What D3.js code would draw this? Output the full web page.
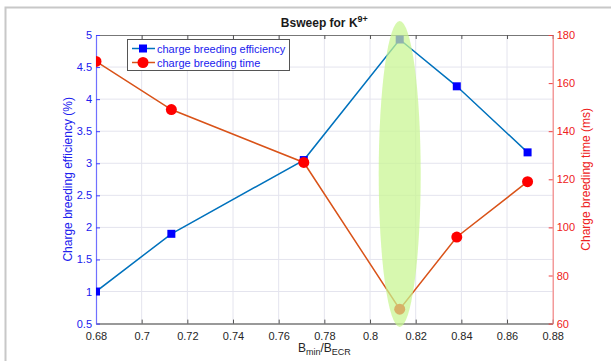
<!DOCTYPE html>
<html><head><meta charset="utf-8">
<script src="https://cdn.jsdelivr.net/npm/d3@7"></script>
<style>
body{margin:0;background:#fff;}
svg text{font-family:"Liberation Sans",Arial,sans-serif;}
</style></head>
<body><svg id="c" width="611" height="361"></svg>
<script>
const ratio = [0.68, 0.713, 0.771, 0.813, 0.838, 0.869];
const efficiency = [1.0, 1.9, 3.05, 4.93, 4.2, 3.17];
const breedTime = [169, 149, 127, 66, 96, 119];
const xTicks = [0.68,0.7,0.72,0.74,0.76,0.78,0.8,0.82,0.84,0.86,0.88];
const yLeftTicks = [0.5,1,1.5,2,2.5,3,3.5,4,4.5,5];
const yRightTicks = [60,80,100,120,140,160,180];
const highlightX = 0.813;
const seriesNames = ["charge breeding efficiency","charge breeding time"];

const svg = d3.select("#c");
const L=96, R=552.7, T=35, B=323.6;
const x = d3.scaleLinear().domain([0.68,0.88]).range([L,R]);
const yL = d3.scaleLinear().domain([0.5,5]).range([B,T]);
const yR = d3.scaleLinear().domain([60,180]).range([B,T]);

svg.append("defs").append("clipPath").attr("id","clip").append("rect")
  .attr("x",L).attr("y",T-6).attr("width",R-L).attr("height",B-T+6);

// figure border
svg.append("path").attr("d","M5.5,361 V7.5 H611").attr("fill","none").attr("stroke","#c8c8c8").attr("stroke-width",2);

// grid
svg.append("g").selectAll("line").data(xTicks.slice(1,-1)).join("line")
  .attr("x1",d=>x(d)).attr("x2",d=>x(d)).attr("y1",T).attr("y2",B)
  .attr("stroke","#e4e4ee").attr("stroke-width",1);
svg.append("g").selectAll("line").data(yLeftTicks.slice(1,-1)).join("line")
  .attr("x1",L).attr("x2",R).attr("y1",d=>yL(d)).attr("y2",d=>yL(d))
  .attr("stroke","#e4e4ee").attr("stroke-width",1);

// bottom axis
const xb = svg.append("g").attr("transform",`translate(0,${B})`)
  .call(d3.axisBottom(x).tickValues(xTicks).tickFormat(d=>d3.format("")(+d.toFixed(2))).tickSizeInner(-4).tickSizeOuter(0).tickPadding(9));
xb.select(".domain").attr("stroke","#777").attr("stroke-width",1.5);
xb.selectAll(".tick line").attr("stroke","#555");
xb.selectAll("text").attr("font-size",11).attr("fill","#262626");
// top axis
const xt = svg.append("g").attr("transform",`translate(0,${T})`)
  .call(d3.axisTop(x).tickValues(xTicks).tickFormat("").tickSizeInner(-4).tickSizeOuter(0));
xt.select(".domain").attr("stroke","#777").attr("stroke-width",1);
xt.selectAll(".tick line").attr("stroke","#555");

// left axis
const yl = svg.append("g").attr("transform",`translate(${L},0)`)
  .call(d3.axisLeft(yL).tickValues(yLeftTicks).tickFormat(d3.format("")).tickSizeInner(-4).tickSizeOuter(0).tickPadding(4));
yl.select(".domain").attr("stroke","#7070ff").attr("stroke-width",1.2);
yl.selectAll(".tick line").attr("stroke","#4040ff");
yl.selectAll("text").attr("font-size",11).attr("fill","#2020ee");
// right axis
const yr = svg.append("g").attr("transform",`translate(${R},0)`)
  .call(d3.axisRight(yR).tickValues(yRightTicks).tickSizeInner(-4).tickSizeOuter(0).tickPadding(4));
yr.select(".domain").attr("stroke","#f08080").attr("stroke-width",1.2);
yr.selectAll(".tick line").attr("stroke","#f04040");
yr.selectAll("text").attr("font-size",11).attr("fill","#ee2020");

// lines
const plot = svg.append("g").attr("clip-path","url(#clip)");
const lineE = d3.line().x((d,i)=>x(ratio[i])).y(d=>yL(d));
const lineT = d3.line().x((d,i)=>x(ratio[i])).y(d=>yR(d));
plot.append("path").attr("d",lineE(efficiency)).attr("fill","none").attr("stroke","#0072bd").attr("stroke-width",1.5);
plot.append("path").attr("d",lineT(breedTime)).attr("fill","none").attr("stroke","#d95319").attr("stroke-width",1.5);
plot.append("g").selectAll("rect").data(efficiency).join("rect")
  .attr("x",(d,i)=>x(ratio[i])-4).attr("y",d=>yL(d)-4).attr("width",8).attr("height",8).attr("fill","#0000ff");
plot.append("g").selectAll("circle").data(breedTime).join("circle")
  .attr("cx",(d,i)=>x(ratio[i])).attr("cy",d=>yR(d)).attr("r",5.5).attr("fill","#ff0000");

// highlight ellipse
svg.append("ellipse").attr("cx",x(highlightX)).attr("cy",(21+327)/2).attr("rx",21).attr("ry",(327-21)/2)
  .attr("fill","#c8f590").attr("opacity",0.72);

// legend
const lg = svg.append("g");
lg.append("rect").attr("x",127.5).attr("y",39.5).attr("width",162).attr("height",31).attr("fill","#fff").attr("stroke","#555").attr("stroke-width",1);
const rows=[48.5,62.5];
lg.append("line").attr("x1",132).attr("x2",155).attr("y1",rows[0]).attr("y2",rows[0]).attr("stroke","#0072bd").attr("stroke-width",1.5);
lg.append("rect").attr("x",139).attr("y",rows[0]-4).attr("width",8).attr("height",8).attr("fill","#0000ff");
lg.append("line").attr("x1",132).attr("x2",155).attr("y1",rows[1]).attr("y2",rows[1]).attr("stroke","#d95319").attr("stroke-width",1.5);
lg.append("circle").attr("cx",143).attr("cy",rows[1]).attr("r",5.5).attr("fill","#ff0000");
lg.selectAll("text").data(seriesNames).join("text").attr("x",157).attr("y",(d,i)=>rows[i]+4)
  .attr("font-size",11).attr("fill","#1a1aee").text(d=>d);

// title
const title = svg.append("text").attr("x",(L+R)/2).attr("y",27).attr("text-anchor","middle").attr("font-size",12).attr("font-weight","bold").attr("fill","#1a1a1a");
title.append("tspan").text("Bsweep for K");
title.append("tspan").attr("dy",-5).attr("font-size",9).text("9+");

// x label
const xl = svg.append("text").attr("x",(L+R)/2).attr("y",352).attr("text-anchor","middle").attr("font-size",12).attr("fill","#262626");
xl.append("tspan").text("B");
xl.append("tspan").attr("dy",3).attr("font-size",9).text("min");
xl.append("tspan").attr("dy",-3).text("/B");
xl.append("tspan").attr("dy",3).attr("font-size",9).text("ECR");

// y labels
svg.append("text").attr("transform",`translate(72,${(T+B)/2}) rotate(-90)`).attr("text-anchor","middle")
  .attr("font-size",12).attr("fill","#2020ee").text("Charge breeding efficiency (%)");
svg.append("text").attr("transform",`translate(590,${(T+B)/2}) rotate(-90)`).attr("text-anchor","middle")
  .attr("font-size",12).attr("fill","#ee2020").text("Charge breeding time (ms)");
</script></body></html>
